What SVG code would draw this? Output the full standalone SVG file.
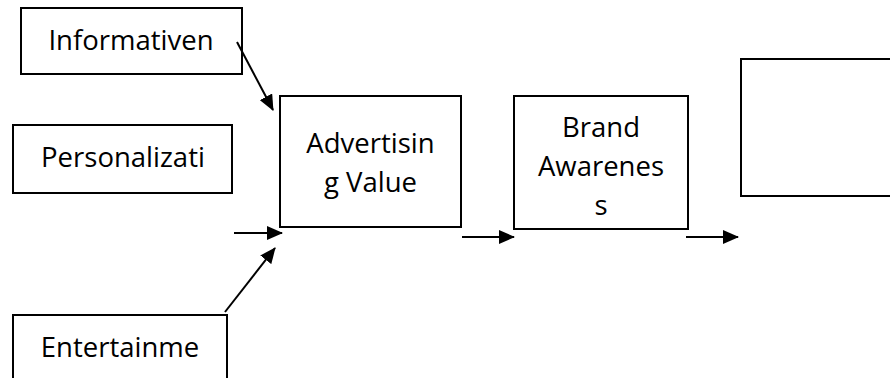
<svg xmlns="http://www.w3.org/2000/svg" width="890" height="378" viewBox="0 0 890 378">
<style>
.box{fill:#fff;stroke:#000;stroke-width:2}
.t{font-family:"Open Sans","Liberation Sans",sans-serif;font-size:27.5px;fill:#000;text-anchor:middle}
.c{stroke:#000;stroke-width:2;fill:none;marker-end:url(#ah)}
</style>
<defs>
<marker id="ah" markerUnits="userSpaceOnUse" markerWidth="16" markerHeight="14" refX="15" refY="7" orient="auto">
<path d="M0,0 L16,7 L0,14 Z" fill="#000"/>
</marker>
</defs>
<rect width="890" height="378" fill="#fff"/>
<g id="informativen">
<rect class="box" x="21" y="8" width="221" height="66"/>
<text class="t" x="131" y="50">Informativen</text>
</g>
<g id="personalizati">
<rect class="box" x="13" y="125" width="219" height="68"/>
<text class="t" x="123" y="167">Personalizati</text>
</g>
<g id="entertainme">
<rect class="box" x="13" y="315" width="214" height="80"/>
<text class="t" x="120" y="357">Entertainme</text>
</g>
<g id="advertising-value">
<rect class="box" x="280" y="96" width="181" height="131"/>
<text class="t" x="370.5" y="153">Advertisin</text>
<text class="t" x="370.5" y="192">g Value</text>
</g>
<g id="brand-awareness">
<rect class="box" x="514" y="96" width="174" height="133"/>
<text class="t" x="601" y="137">Brand</text>
<text class="t" x="601" y="176">Awarenes</text>
<text class="t" x="601" y="215">s</text>
</g>
<g id="empty-box">
<rect class="box" x="741" y="59" width="200" height="137"/>
</g>
<g id="connectors">
<line class="c" x1="237" y1="42" x2="273" y2="110"/>
<line class="c" x1="234" y1="233" x2="282" y2="233"/>
<line class="c" x1="225" y1="312" x2="275" y2="248"/>
<line class="c" x1="462" y1="237" x2="514" y2="237"/>
<line class="c" x1="686" y1="237" x2="738" y2="237"/>
</g>
</svg>
